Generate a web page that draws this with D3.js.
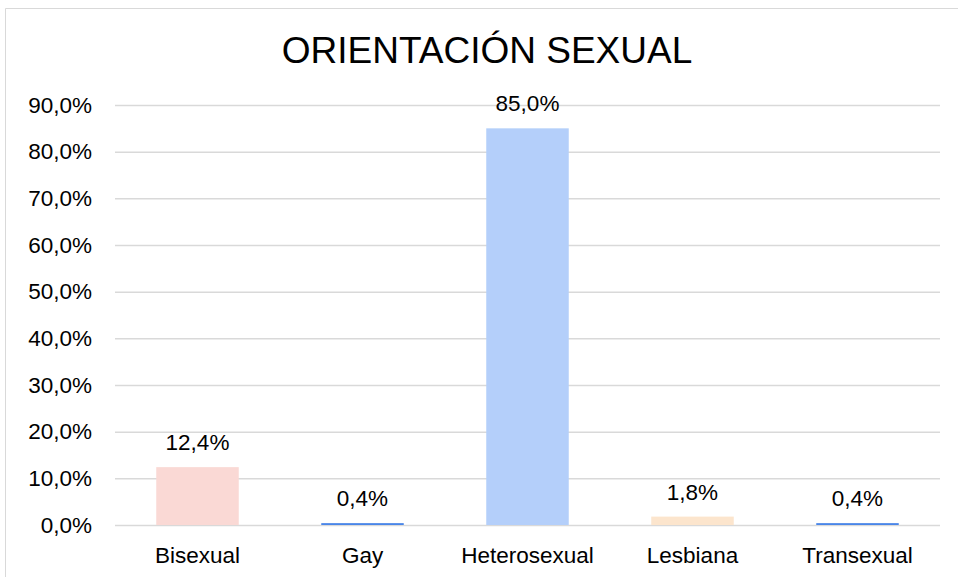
<!DOCTYPE html>
<html>
<head>
<meta charset="utf-8">
<script src="https://cdn.jsdelivr.net/npm/d3@7"></script>
<style>
  body { margin: 0; background: #fff; }
  text { font-family: "Liberation Sans", Arial, sans-serif; fill: #000; }
</style>
</head>
<body>
<div id="chart"></div>
<script>
var categories = ["Bisexual", "Gay", "Heterosexual", "Lesbiana", "Transexual"];
var values = [12.4, 0.4, 85.0, 1.8, 0.4];
var colors = ["#fad9d5", "#4a86e8", "#b4cffa", "#fce5cd", "#4a86e8"];
var yTicks = [0, 10, 20, 30, 40, 50, 60, 70, 80, 90];

var W = 958, H = 577;
var margin = {top: 105, right: 18, bottom: 52, left: 115};
var width = W - margin.left - margin.right,
    height = H - margin.top - margin.bottom;

var fmt = function(v) { return v.toFixed(1).replace(".", ",") + "%"; };

var svg = d3.select("#chart").append("svg")
    .attr("width", W)
    .attr("height", H);

// chart frame (cropped at right / bottom)
svg.append("path")
    .attr("d", "M5.5," + H + "V8.5H" + W)
    .attr("fill", "none")
    .attr("stroke", "#d9d9d9")
    .attr("stroke-width", 1);

svg.append("text")
    .attr("x", 487)
    .attr("y", 63)
    .attr("text-anchor", "middle")
    .style("font-size", "37px")
    .text("ORIENTACIÓN SEXUAL");

var g = svg.append("g")
    .attr("transform", "translate(" + margin.left + "," + margin.top + ")");

var x = d3.scaleBand()
    .domain(categories)
    .range([0, width])
    .paddingInner(0.5)
    .paddingOuter(0.25);

var y = d3.scaleLinear()
    .domain([0, 90])
    .range([height, 0]);

// gridlines
g.append("g")
    .attr("class", "grid")
    .call(d3.axisLeft(y).tickValues(yTicks).tickSize(-width).tickFormat(""))
    .call(function(s) {
        s.select(".domain").remove();
        s.selectAll("line").attr("stroke", "#d9d9d9").attr("stroke-width", 1.5);
    });

// y labels
g.append("g")
    .call(d3.axisLeft(y).tickValues(yTicks).tickSize(0).tickPadding(23).tickFormat(fmt))
    .call(function(s) {
        s.select(".domain").remove();
        s.selectAll("text").style("font-size", "22.5px").attr("fill", "#000");
    });

// bars
g.selectAll(".bar")
    .data(values)
    .enter().append("rect")
    .attr("class", "bar")
    .attr("x", function(d, i) { return x(categories[i]); })
    .attr("width", x.bandwidth())
    .attr("y", function(d) { return y(d); })
    .attr("height", function(d) { return height - y(d); })
    .attr("fill", function(d, i) { return colors[i]; });

// value labels
g.selectAll(".lbl")
    .data(values)
    .enter().append("text")
    .attr("class", "lbl")
    .attr("x", function(d, i) { return x(categories[i]) + x.bandwidth() / 2; })
    .attr("y", function(d) { return y(d) - 17; })
    .attr("text-anchor", "middle")
    .style("font-size", "22.5px")
    .text(fmt);

// x axis
g.append("g")
    .attr("transform", "translate(0," + height + ")")
    .call(d3.axisBottom(x).tickSize(0).tickPadding(22))
    .call(function(s) {
        s.select(".domain").remove();
        s.selectAll("text").style("font-size", "22.5px").attr("fill", "#000");
    });
</script>
</body>
</html>
